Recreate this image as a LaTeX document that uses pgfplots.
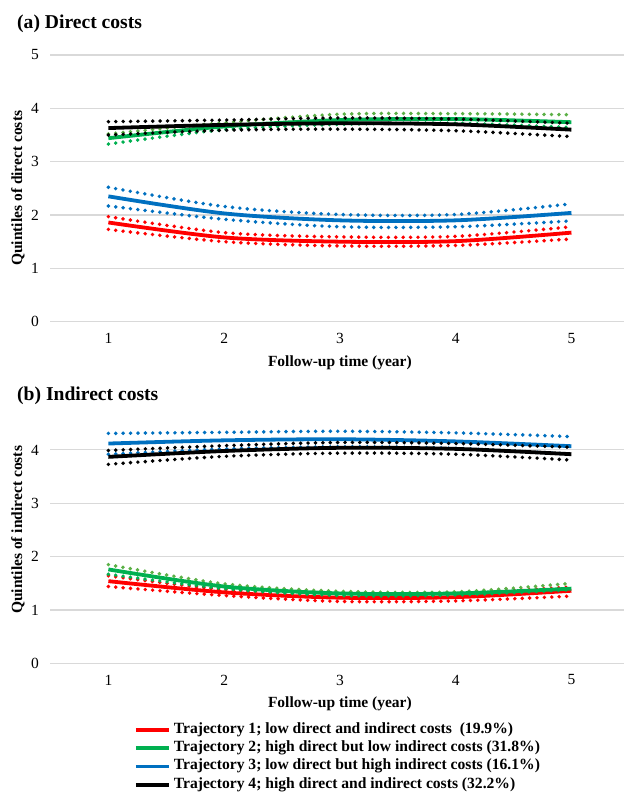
\documentclass[border=0pt]{standalone}
\usepackage{fontspec}
\setmainfont{Liberation Serif}
\usepackage{pgfplots}
\usepackage{pgfplotstable}
\pgfplotsset{compat=1.18}

\definecolor{cRed}{RGB}{255,0,0}
\definecolor{cGreen}{RGB}{0,176,80}
\definecolor{cGreenD}{RGB}{92,176,70}
\definecolor{cBlue}{RGB}{0,112,192}
\definecolor{cGrid}{RGB}{217,217,217}

% x, red (mean, upper, lower), green, blue, black
\pgfplotstableread{
x  r    rU   rL   g    gU   gL   b    bU   bL   k    kU   kL
1  1.86 1.97 1.73 3.44 3.52 3.33 2.35 2.52 2.17 3.63 3.75 3.50
2  1.58 1.67 1.50 3.66 3.73 3.60 2.03 2.16 1.92 3.69 3.78 3.59
3  1.50 1.59 1.42 3.78 3.89 3.70 1.90 2.01 1.78 3.72 3.82 3.61
4  1.51 1.60 1.43 3.80 3.90 3.72 1.90 2.01 1.78 3.70 3.80 3.58
5  1.67 1.78 1.55 3.74 3.88 3.64 2.04 2.21 1.89 3.60 3.72 3.47
}\direct

\pgfplotstableread{
x  r    rU   rL   g    gU   gL   b    bU   bL   k    kU   kL
1  1.54 1.64 1.44 1.76 1.85 1.67 4.12 4.31 3.92 3.87 3.99 3.73
2  1.33 1.38 1.27 1.44 1.49 1.40 4.18 4.33 4.02 3.98 4.08 3.88
3  1.23 1.30 1.16 1.31 1.35 1.27 4.20 4.35 4.06 4.04 4.14 3.94
4  1.24 1.31 1.17 1.31 1.34 1.28 4.16 4.32 4.03 4.02 4.12 3.92
5  1.36 1.43 1.26 1.40 1.50 1.38 4.07 4.25 3.92 3.92 4.05 3.81
}\indirect

\tikzset{
  sol/.style={line width=3.8pt, smooth},
  dotl/.style={line width=3.9pt, dash pattern=on 0pt off 7.4pt, line cap=round, smooth},
}

\pgfplotsset{
  trajaxis/.style={
    scale only axis,
    width=573pt, height=266.7pt,
    anchor=south west,
    xmin=0.5, xmax=5.45,
    ymin=0, ymax=5,
    xtick={1,2,3,4,5},
    axis line style={draw=none},
    major tick length=0pt,
    ymajorgrids,
    grid style={cGrid, line width=1.1pt},
    /pgf/number format/assume math mode=true,
    ticklabel style={font=\fontsize{15.5}{18}\selectfont},
    xticklabel style={yshift=-8pt},
    yticklabel style={xshift=-8pt},
    every axis x label/.style={at={(axis description cs:0.50505,-0.1537)}, anchor=center},
    every axis y label/.style={at={(axis description cs:-0.0567,0.5)}, rotate=90, anchor=center},
    label style={font=\bfseries\fontsize{15.5}{18}\selectfont},
    xlabel={Follow-up time (year)},
    clip=false,
  }
}

\begin{document}
\begin{tikzpicture}
\useasboundingbox (0pt,0pt) rectangle (625pt,792pt);

\node[anchor=west, inner sep=0pt, font=\bfseries\fontsize{19.6}{23}\selectfont] at (17pt,768pt) {(a) Direct costs};
\node[anchor=west, inner sep=0pt, font=\bfseries\fontsize{19.6}{23}\selectfont] at (17pt,396pt) {(b) Indirect costs};

% Panel (a)
\begin{axis}[trajaxis, at={(50.5pt,470.3pt)}, ytick={0,1,2,3,4,5},
  ylabel={Quintiles of direct costs}]
  \addplot[dotl, cRed, forget plot] table[x=x, y=rU] {\direct};
  \addplot[dotl, cRed, forget plot] table[x=x, y=rL] {\direct};
  \addplot[sol, cRed] table[x=x, y=r] {\direct};
  \addplot[dotl, cGreenD, forget plot] table[x=x, y=gU] {\direct};
  \addplot[dotl, cGreen, forget plot] table[x=x, y=gL] {\direct};
  \addplot[sol, cGreen] table[x=x, y=g] {\direct};
  \addplot[dotl, cBlue, forget plot] table[x=x, y=bU] {\direct};
  \addplot[dotl, cBlue, forget plot] table[x=x, y=bL] {\direct};
  \addplot[sol, cBlue] table[x=x, y=b] {\direct};
  \addplot[dotl, black, forget plot] table[x=x, y=kU] {\direct};
  \addplot[dotl, black, forget plot] table[x=x, y=kL] {\direct};
  \addplot[sol, black] table[x=x, y=k] {\direct};
\end{axis}

% Panel (b)
\begin{axis}[trajaxis, at={(50.5pt,128.7pt)}, ytick={0,1,2,3,4},
  ylabel={Quintiles of indirect costs},
  legend image code/.code={\draw[#1] (0pt,0pt) -- (33pt,0pt);},
  legend cell align=left,
  legend style={at={(axis description cs:0.1458,-0.2215)}, anchor=north west,
    draw=none, fill=none, inner sep=0pt, outer sep=0pt,
    font=\bfseries\fontsize{15.6}{18}\selectfont,
    row sep=3.3pt, column sep=3pt,
    nodes={inner sep=0pt, text height=11pt, text depth=4pt}},
  ]
  \addplot[dotl, cRed, forget plot] table[x=x, y=rU] {\indirect};
  \addplot[dotl, cRed, forget plot] table[x=x, y=rL] {\indirect};
  \addplot[sol, cRed] table[x=x, y=r] {\indirect};
  \addlegendentry{Trajectory 1; low direct and indirect costs \ (19.9\%)}
  \addplot[dotl, cGreenD, forget plot] table[x=x, y=gU] {\indirect};
  \addplot[dotl, cGreen, forget plot] table[x=x, y=gL] {\indirect};
  \addplot[sol, cGreen] table[x=x, y=g] {\indirect};
  \addlegendentry{Trajectory 2; high direct but low indirect costs (31.8\%)}
  \addplot[dotl, cBlue, forget plot] table[x=x, y=bU] {\indirect};
  \addplot[dotl, cBlue, forget plot] table[x=x, y=bL] {\indirect};
  \addplot[sol, cBlue] table[x=x, y=b] {\indirect};
  \addlegendentry{Trajectory 3; low direct but high indirect costs (16.1\%)}
  \addplot[dotl, black, forget plot] table[x=x, y=kU] {\indirect};
  \addplot[dotl, black, forget plot] table[x=x, y=kL] {\indirect};
  \addplot[sol, black] table[x=x, y=k] {\indirect};
  \addlegendentry{Trajectory 4; high direct and indirect costs (32.2\%)}
\end{axis}
\end{tikzpicture}
\end{document}
